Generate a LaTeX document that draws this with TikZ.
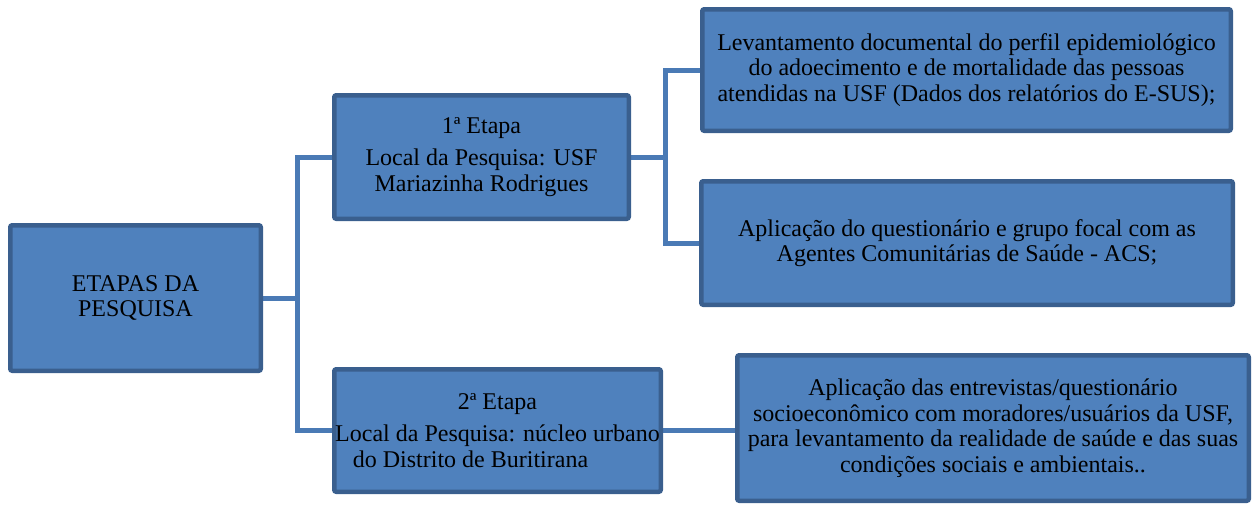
\documentclass[tikz,border=0pt]{standalone}
\usepackage{fontspec}
\setmainfont{Liberation Serif}
\usetikzlibrary{backgrounds}
\definecolor{boxfill}{HTML}{4F81BD}
\definecolor{boxline}{HTML}{3A5F8E}
\definecolor{conn}{HTML}{4A7AB5}
\tikzset{
  stagebox/.style={draw=boxline, fill=boxfill, line width=4.5pt, rounded corners=2pt,
    inner sep=0pt, align=center, font=\fontsize{24}{25.5}\selectfont, text=black},
  link/.style={draw=conn, line width=5pt}
}
\begin{document}
\begin{tikzpicture}[x=1pt,y=-1pt]
\useasboundingbox (0,0) rectangle (1252,504);
\node[stagebox, minimum width=250.5pt, minimum height=145.5pt] (b1) at (135.5,298) {ETAPAS DA\\PESQUISA};
\node[stagebox, minimum width=294.5pt, minimum height=123.5pt] (b2) at (481.5,157) {1ª Etapa\\[7pt]Local da Pesquisa: USF\\Mariazinha Rodrigues};
\node[stagebox, minimum width=326.5pt, minimum height=122.5pt] (b3) at (497.5,430.5) {2ª Etapa\\[7pt]Local da Pesquisa: núcleo urbano\\do Distrito de Buritirana\hspace*{54pt}};
\node[stagebox, minimum width=528.5pt, minimum height=121.5pt] (b4) at (966.5,70) {Levantamento documental do perfil epidemiológico\\do adoecimento e de mortalidade das pessoas\\atendidas na USF (Dados dos relatórios do E-SUS);};
\node[stagebox, minimum width=531.5pt, minimum height=123.5pt] (b5) at (967,243) {Aplicação do questionário e grupo focal com as\\Agentes Comunitárias de Saúde - ACS;};
\node[stagebox, minimum width=511.5pt, minimum height=145.5pt] (b6) at (993,428) {Aplicação das entrevistas/questionário\\socioeconômico com moradores/usuários da USF,\\para levantamento da realidade de saúde e das suas\\condições sociais e ambientais..};
\coordinate (j1) at (297,298);
\coordinate (j2) at (665,157);
\begin{scope}[on background layer]
\draw[link] (b2.west) -| (j1) |- (b3.west);
\draw[link] (b1.east) -- (j1);
\draw[link] (b4.west) -| (j2) |- (b5.west);
\draw[link] (b2.east) -- (j2);
\draw[link] (b3.east) -- (b3.east -| b6.west);
\end{scope}
\end{tikzpicture}
\end{document}
